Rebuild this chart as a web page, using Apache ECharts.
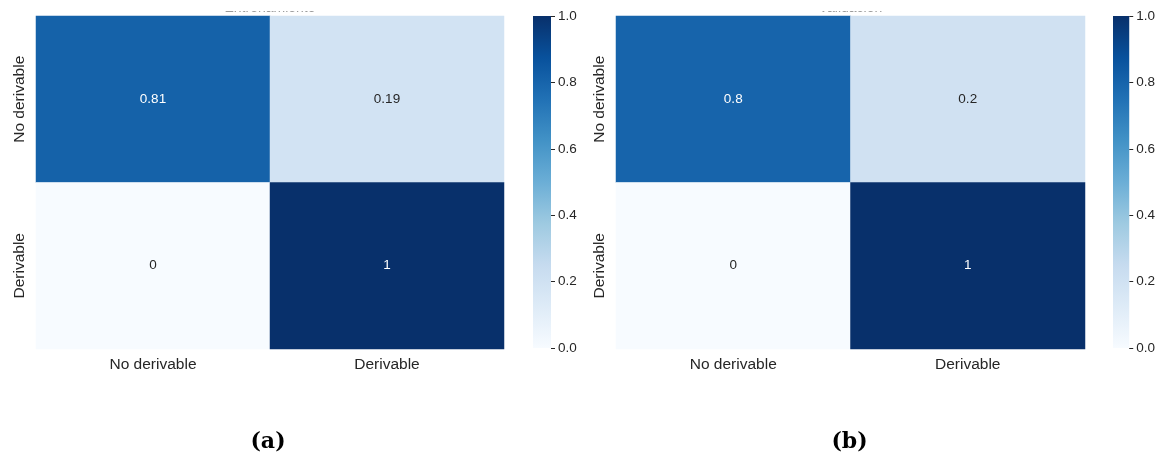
<!DOCTYPE html>
<html>
<head>
<meta charset="utf-8">
<script src="https://cdn.jsdelivr.net/npm/echarts@6/dist/echarts.min.js"></script>
<style>
  html, body { margin: 0; padding: 0; background: #ffffff; }
  #chart { width: 1158px; height: 457px; }
</style>
</head>
<body>
<div id="chart"></div>
<script>
// Class labels shared by both confusion matrices
const classes = ['No derivable', 'Derivable'];

// Normalised confusion matrices, rows = true class, cols = predicted class
const trainMatrix = [
  [0.81, 0.19],
  [0, 1]
];
const validMatrix = [
  [0.8, 0.2],
  [0, 1]
];

const panelTitles = ['Entrenamiento', 'Validación'];
const panelTags = ['(a)', '(b)'];

// Colour bar scale
const barMin = 0;
const barMax = 1;
const barStep = 0.2;

// Seaborn "Blues" palette
const blues = ['#f7fbff', '#deebf7', '#c6dbef', '#9ecae1', '#6baed6',
               '#4292c6', '#2171b5', '#08519c', '#08306b'];

const textColor = '#262626';
const font = 'Liberation Sans, Arial, sans-serif';

function cells(matrix) {
  const out = [];
  matrix.forEach((row, r) => {
    row.forEach((v, c) => {
      out.push({
        value: [c, r, v],
        label: { color: v > 0.5 ? '#ffffff' : textColor }
      });
    });
  });
  return out;
}

const panels = [
  { left: 36, width: 468, barLeft: 533, matrix: trainMatrix },
  { left: 616, width: 469, barLeft: 1113, matrix: validMatrix }
];

const grid = [], xAxis = [], yAxis = [], series = [], graphic = [];

panels.forEach((p, i) => {
  // heatmap grid
  grid.push({ left: p.left, top: 16, width: p.width, height: 333 });
  // colour bar grid
  grid.push({ left: p.barLeft, top: 16, width: 18, height: 332 });

  xAxis.push({
    type: 'category', gridIndex: 2 * i, data: classes,
    axisLine: { show: false }, axisTick: { show: false }, splitLine: { show: false },
    axisLabel: { color: textColor, fontSize: 15.5, fontFamily: font, margin: 8 }
  });
  yAxis.push({
    type: 'category', gridIndex: 2 * i, data: classes, inverse: true,
    axisLine: { show: false }, axisTick: { show: false }, splitLine: { show: false },
    axisLabel: { color: textColor, fontSize: 15.5, fontFamily: font, rotate: 90, margin: 8 }
  });

  xAxis.push({
    type: 'category', gridIndex: 2 * i + 1, data: [''],
    axisLine: { show: false }, axisTick: { show: false }, axisLabel: { show: false }
  });
  yAxis.push({
    type: 'value', gridIndex: 2 * i + 1, position: 'right',
    min: barMin, max: barMax, interval: barStep,
    splitLine: { show: false },
    axisLine: { show: false },
    axisTick: { show: true, length: 4, lineStyle: { color: textColor, width: 1 } },
    axisLabel: {
      color: textColor, fontSize: 13.5, fontFamily: font, margin: 7,
      formatter: v => v.toFixed(1)
    }
  });

  series.push({
    type: 'heatmap', xAxisIndex: 2 * i, yAxisIndex: 2 * i,
    data: cells(p.matrix),
    label: { show: true, fontSize: 13.5, fontFamily: font, formatter: d => String(d.value[2]) },
    itemStyle: { borderWidth: 0 },
    emphasis: { disabled: true }
  });

  series.push({
    type: 'bar', xAxisIndex: 2 * i + 1, yAxisIndex: 2 * i + 1,
    data: [barMax], barWidth: '100%', silent: true,
    itemStyle: {
      color: {
        type: 'linear', x: 0, y: 0, x2: 0, y2: 1,
        colorStops: blues.slice().reverse().map((c, k) => ({ offset: k / (blues.length - 1), color: c }))
      }
    }
  });

  const cx = p.left + p.width / 2;
  // panel title, cut off by the figure's top edge
  graphic.push({
    type: 'text', x: cx, y: 15, z: 1,
    style: {
      text: panelTitles[i], fill: '#9a9a9a', align: 'center', verticalAlign: 'bottom',
      font: '14px ' + font
    }
  });
  // white band over the title: the figure's cropped top edge
  graphic.push({
    type: 'rect', x: p.left, y: 0, z: 3,
    shape: { width: p.width, height: 11 },
    style: { fill: '#ffffff' }
  });
  // sub-figure tag
  graphic.push({
    type: 'text', x: cx - (i ? 1 : 2), y: 442, z: 5,
    style: {
      text: panelTags[i], fill: '#000000', align: 'center', verticalAlign: 'middle',
      font: 'bold 22px "DejaVu Serif", "Liberation Serif", serif'
    }
  });
});

const chart = echarts.init(document.getElementById('chart'), null, { renderer: 'canvas' });
chart.setOption({
  animation: false,
  backgroundColor: '#ffffff',
  grid, xAxis, yAxis, series, graphic,
  visualMap: {
    show: false, min: barMin, max: barMax, seriesIndex: [0, 2],
    dimension: 2, inRange: { color: blues }
  }
});
</script>
</body>
</html>
